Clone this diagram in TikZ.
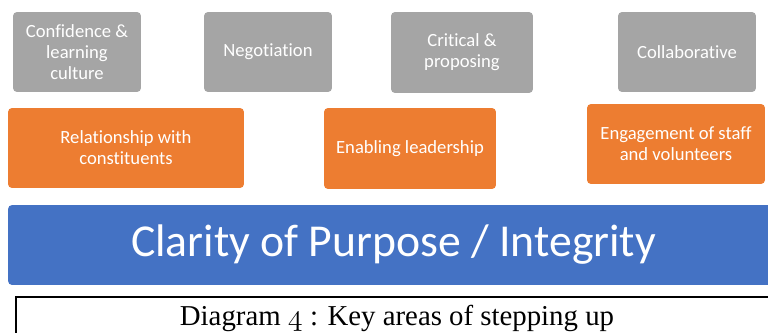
\documentclass[tikz,border=0pt]{standalone}
\usepackage{fontspec}
\setmainfont{Carlito}[Ligatures=CommonOff]
\newfontfamily\capfont{Liberation Serif}
\usepackage{tikz}
\definecolor{areagray}{HTML}{A5A5A5}
\definecolor{areaorange}{HTML}{ED7D31}
\definecolor{areablue}{HTML}{4472C4}

\begin{document}
\begin{tikzpicture}[x=0.02cm,y=-0.02cm,
        area/.style={rounded corners=0.08cm,text=white,align=center,font=\fontsize{10.6}{12}\selectfont,inner sep=0pt},
        skill/.style={area,fill=areagray,minimum height=1.6cm},
        focus/.style={area,fill=areaorange,minimum height=1.6cm}]
                \clip (0,0) rectangle (768,332);

                \node[skill,minimum width=2.56cm] (confidence) at (77,52) {Confidence \&\\learning\\culture};
                \node[skill,minimum width=2.56cm] (negotiation) at (268,52) {Negotiation};
                \node[skill,minimum width=2.84cm,minimum height=1.62cm] (critical) at (462,52.5) {Critical \&\\proposing};
                \node[skill,minimum width=2.76cm] (collaborative) at (687,52) {Collaborative};

                \node[focus,minimum width=4.72cm] (relationship) at (126,148) {Relationship with\\constituents};
                \node[focus,minimum width=3.44cm,minimum height=1.62cm] (enabling) at (410,148.5) {Enabling leadership};
                \node[focus,minimum width=3.56cm] (engagement) at (676,144) {Engagement of staff\\and volunteers};

                \node[area,fill=areablue,minimum width=15.42cm,minimum height=1.6cm,font=\fontsize{26}{30}\selectfont] (clarity) at (393.5,245) {Clarity of Purpose / Integrity};

                \node[draw,line width=0.85pt,minimum width=15.24cm,minimum height=0.86cm,inner sep=0pt,font=\capfont\fontsize{16.4}{19}\selectfont] (caption) at (397,318.5) {Diagram {\usefont{OML}{cmm}{m}{it}\fontsize{19}{19}\selectfont 4} : Key areas of stepping up};

            \end{tikzpicture}
\end{document}
